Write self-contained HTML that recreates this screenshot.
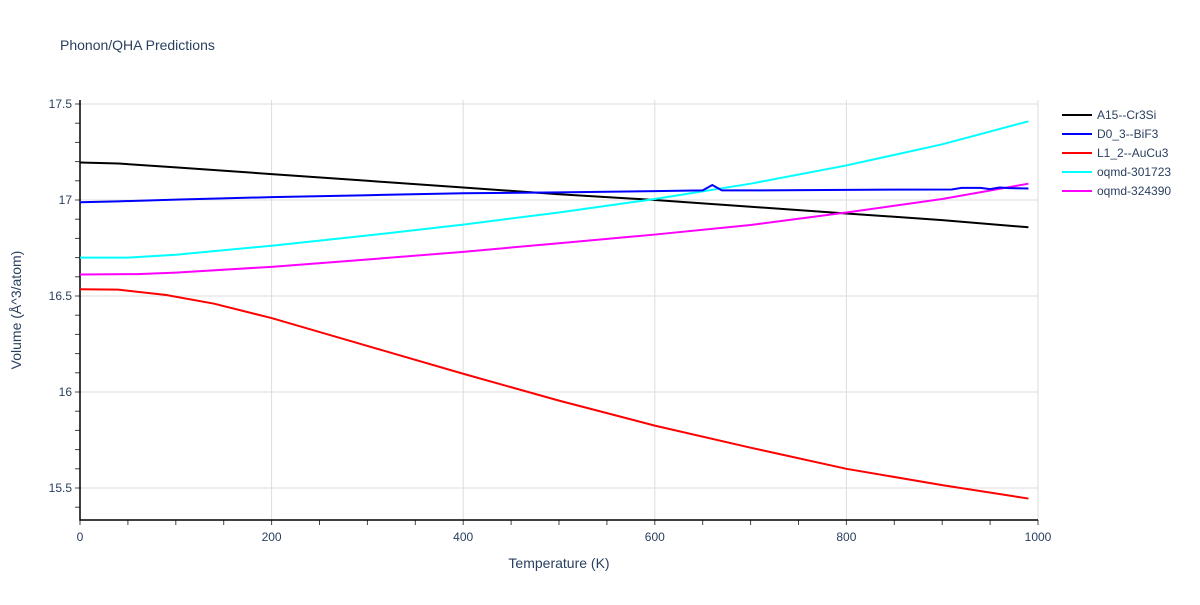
<!DOCTYPE html>
<html><head><meta charset="utf-8"><style>
body{margin:0;background:#fff;font-family:"Liberation Sans",Arial,sans-serif;}
svg text{font-family:"Liberation Sans",Arial,sans-serif;fill:#2a3f5f;}
</style></head><body>
<svg id="chart" width="1200" height="600">
<text x="60" y="50" font-size="14">Phonon/QHA Predictions</text>
<g id="grid"></g><g id="axes"></g><g id="series"></g><g id="legend"></g>
<text x="559" y="568" font-size="14" text-anchor="middle">Temperature (K)</text>
<text transform="translate(21,310) rotate(-90)" font-size="14" text-anchor="middle">Volume (Å^3/atom)</text>
</svg>
<script>
const xTicks=[0,200,400,600,800,1000];
const yTicks=[15.5,16,16.5,17,17.5];
const yTickLabels=["15.5","16","16.5","17","17.5"];
const names=["A15--Cr3Si","D0_3--BiF3","L1_2--AuCu3","oqmd-301723","oqmd-324390"];
const colors=["#000000","#0000ff","#ff0000","#00ffff","#ff00ff"];
const tA=[0,40,100,200,300,400,500,600,700,800,900,990];
const vA=[17.195,17.19,17.17,17.135,17.1,17.065,17.03,17.0,16.965,16.93,16.895,16.858];
const tB=[0,40,100,200,300,400,500,600,650,660,670,700,800,910,920,940,950,960,970,990];
const vB=[16.988,16.993,17.002,17.015,17.025,17.035,17.04,17.046,17.05,17.078,17.05,17.05,17.053,17.055,17.063,17.063,17.057,17.065,17.062,17.06];
const tC=[0,40,90,140,200,300,400,500,600,700,800,900,990];
const vC=[16.535,16.533,16.505,16.46,16.385,16.24,16.095,15.955,15.825,15.71,15.6,15.515,15.445];
const tD=[0,50,100,200,300,400,500,600,700,800,900,990];
const vD=[16.7,16.7,16.715,16.762,16.815,16.872,16.935,17.005,17.085,17.18,17.29,17.41];
const tE=[0,60,100,200,300,400,500,600,700,800,900,990];
const vE=[16.612,16.614,16.622,16.652,16.69,16.73,16.775,16.82,16.87,16.935,17.005,17.085];
const X=t=>80+t*0.958, Y=v=>200-(v-17)*192;
const NS="http://www.w3.org/2000/svg";
function mk(tag,attrs,parent){const e=document.createElementNS(NS,tag);for(const k in attrs)e.setAttribute(k,attrs[k]);parent.appendChild(e);return e;}
const grid=document.getElementById('grid'),axes=document.getElementById('axes'),ser=document.getElementById('series'),leg=document.getElementById('legend');
xTicks.forEach(t=>{if(t>0){const l=mk('line',{x1:X(t),x2:X(t),y1:100,y2:520,stroke:'#dddddd','stroke-width':1},grid);

}
const tx=mk('text',{x:X(t),y:541,'font-size':12,'text-anchor':'middle'},axes);tx.textContent=t;

});
for(let t=0;t<=1000;t+=50){mk('line',{x1:X(t),x2:X(t),y1:520,y2:525,stroke:'#444','stroke-width':1},axes);}
yTicks.forEach((v,i)=>{const l=mk('line',{x1:80,x2:1038,y1:Y(v),y2:Y(v),stroke:'#dddddd','stroke-width':1},grid);


const tx=mk('text',{x:72,y:Y(v)+4,'font-size':12,'text-anchor':'end'},axes);tx.textContent=yTickLabels[i];

});
for(let v=15.4;v<=17.55;v+=0.1){mk('line',{x1:75,x2:80,y1:Y(v),y2:Y(v),stroke:'#444','stroke-width':1},axes);}
const ax=mk('path',{d:'M80,100 V520 H1038',fill:'none',stroke:'#000','stroke-width':1.5},axes);


const data=[[tA,vA],[tB,vB],[tC,vC],[tD,vD],[tE,vE]];
const order=[0,2,4,3,1];
order.forEach(i=>{const [ts,vs]=data[i];
const p=mk('polyline',{points:ts.map((t,j)=>X(t)+','+Y(vs[j])).join(' '),fill:'none',stroke:colors[i],'stroke-width':2},ser);

});
names.forEach((n,i)=>{const g=mk('g',{},leg);


const y=115+i*19;
mk('line',{x1:1062,x2:1092,y1:y,y2:y,stroke:colors[i],'stroke-width':2},g);
const tx=mk('text',{x:1097,y:y+4,'font-size':12},g);tx.textContent=n;});
</script>
</body></html>
